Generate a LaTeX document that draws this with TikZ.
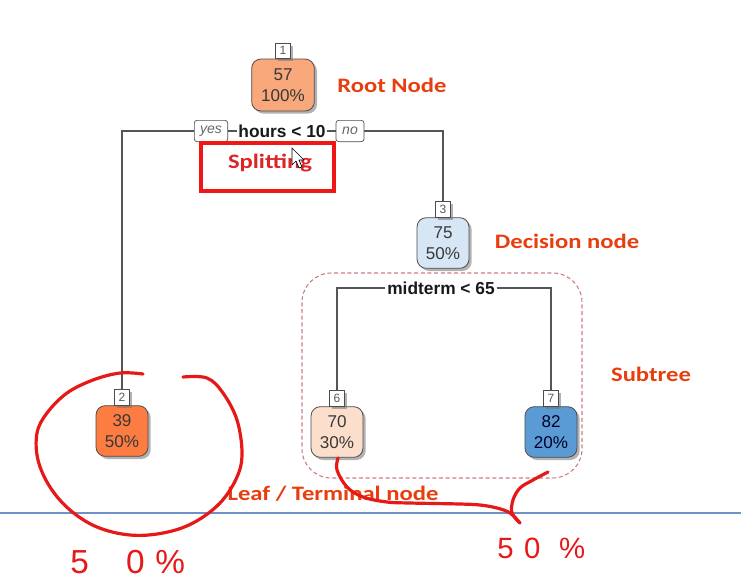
\documentclass[tikz,border=0pt]{standalone}
\usepackage{fontspec}
\usepackage{graphicx}
\setmainfont{Liberation Sans}
\newfontfamily\calib{Carlito}
\usetikzlibrary{shadows}
\definecolor{nA}{RGB}{248,168,122}
\definecolor{nB}{RGB}{252,124,66}
\definecolor{nC}{RGB}{214,230,245}
\definecolor{nF}{RGB}{252,222,204}
\definecolor{nG}{RGB}{91,155,213}
\definecolor{lbl}{RGB}{232,62,14}
\definecolor{splc}{RGB}{222,36,36}
\definecolor{boxc}{RGB}{240,22,22}
\definecolor{pen}{RGB}{230,24,24}
\definecolor{dashc}{RGB}{205,125,130}
\definecolor{rulec}{RGB}{110,145,200}
\definecolor{wirec}{RGB}{85,85,85}
\newcommand{\wideTxt}[1]{\scalebox{1.2}[1]{#1}}
\pgfdeclarelayer{bg}
\pgfsetlayers{bg,main}
\begin{document}
\begin{tikzpicture}[x=0.75pt,y=-0.75pt,
  shad/.style={drop shadow={shadow xshift=2pt, shadow yshift=-2pt, fill=black!55, opacity=0.55}},
  treenode/.style={shad, draw=black!70, line width=0.6pt, rounded corners=7pt, align=center,
    text=black!78, font=\fontsize{12.8}{15.6}\selectfont, minimum width=39pt, minimum height=38pt, inner sep=2pt},
  numbox/.style={shad, draw=black!70, fill=white, line width=0.5pt, minimum width=11pt, minimum height=11.5pt,
    inner sep=0pt, font=\fontsize{9}{9}\selectfont, text=black!65, anchor=south},
  splitlab/.style={draw=black!70, fill=white, line width=0.5pt, rounded corners=2pt,
    font=\itshape\fontsize{10.5}{11}\selectfont, text=black!60, minimum height=16pt, inner sep=1pt},
  splittxt/.style={fill=white, font=\bfseries\fontsize{13}{14}\selectfont, text=black!90, inner sep=1.2pt},
  wire/.style={draw=wirec, line width=1pt},
  anno/.style={font=\calib\bfseries\fontsize{15.4}{18}\selectfont, text=lbl, anchor=base, inner sep=0pt},
  penline/.style={draw=pen, line width=2.4pt, line cap=round, line join=round},
  hand/.style={text=pen, inner sep=0pt, anchor=base west}
]
\useasboundingbox (0,0) rectangle (741,587);

% tree nodes
\node[treenode, fill=nA, minimum width=47pt, minimum height=39pt] (n1) at (283,85) {57\\100\%};
\node[numbox] (l1) at (n1.north) {1};
\node[treenode, fill=nC] (n3) at (443,243) {75\\50\%};
\node[numbox] (l3) at (n3.north) {3};
\node[treenode, fill=nB] (n2) at (122,431) {39\\50\%};
\node[numbox] (l2) at (n2.north) {2};
\node[treenode, fill=nF] (n6) at (337,432) {70\\30\%};
\node[numbox] (l6) at (n6.north) {6};
\node[treenode, fill=nG, text=black!85!blue] (n7) at (551,432) {82\\20\%};
\node[numbox] (l7) at (n7.north) {7};

% split labels
\node[splittxt] (s1) at (282,131) {hours < 10};
\node[splitlab, minimum width=25pt] (yes) at (211,131) {yes};
\node[splitlab, minimum width=21pt] (no) at (350,131) {no};
\node[splittxt] (s2) at (441,288) {midterm < 65};

\begin{pgfonlayer}{bg}
  \draw[wire] (l2.north) |- (yes.west);
  \draw[wire] (yes.east) -- (s1.west);
  \draw[wire] (s1.east) -- (no.west);
  \draw[wire] (no.east) -| (l3.north);
  \draw[wire] (l6.north) |- (s2.west);
  \draw[wire] (s2.east) -| (l7.north);
  % subtree frame
  \draw[dashc, line width=0.8pt, dash pattern=on 3pt off 2pt, rounded corners=22pt] (302,273) rectangle (582,478);
\end{pgfonlayer}

% annotations
\node[anno] (root) at (392,92) {\wideTxt{Root Node}};
\node[anno] (dec) at (567,248) {\wideTxt{Decision node}};
\node[anno] (sub) at (651,381) {\wideTxt{Subtree}};
\draw[boxc, line width=3pt] (201,143) rectangle (334,191);
\node[anno, text=splc] (spl) at (270,168) {\wideTxt{Splitting}};

% mouse cursor
\draw[black, fill=white, line width=0.5pt, line join=round]
  (292,148) -- (292,165) -- (296,161) -- (299,168) -- (302,167) -- (299,160) -- (304,160) -- cycle;

% horizontal rule
\draw[rulec, line width=0.8pt] (0,513) -- (741,513);

\node[anno] (leaf) at (333,500) {\wideTxt{Leaf / Terminal node}};

% hand-drawn marks
\draw[penline] plot[smooth, tension=0.6] coordinates {(143,374) (120,373) (93,380) (67,393) (47,413) (37,433) (38,460) (50,487) (70,510) (97,527) (130,535) (163,533) (193,523) (220,503) (237,477) (242,453) (237,420) (223,393) (207,378) (183,377)};
\draw[penline] plot[smooth, tension=0.6] coordinates {(338,458) (337,470) (347,487) (363,497) (387,502) (410,503) (460,504) (480,505) (497,508) (510,513) (520,523)};
\draw[penline] plot[smooth, tension=0.6] coordinates {(548,472) (533,480) (520,488) (513,500) (512,513) (520,523)};

\node[hand, font=\fontsize{25}{25}\selectfont] (h1) at (70,573) {5\hspace{28pt}0\hspace{8pt}\%};
\node[hand, font=\fontsize{22}{22}\selectfont] (h2) at (497,558) {5\hspace{8pt}0\hspace{14pt}\%};
\end{tikzpicture}
\end{document}
